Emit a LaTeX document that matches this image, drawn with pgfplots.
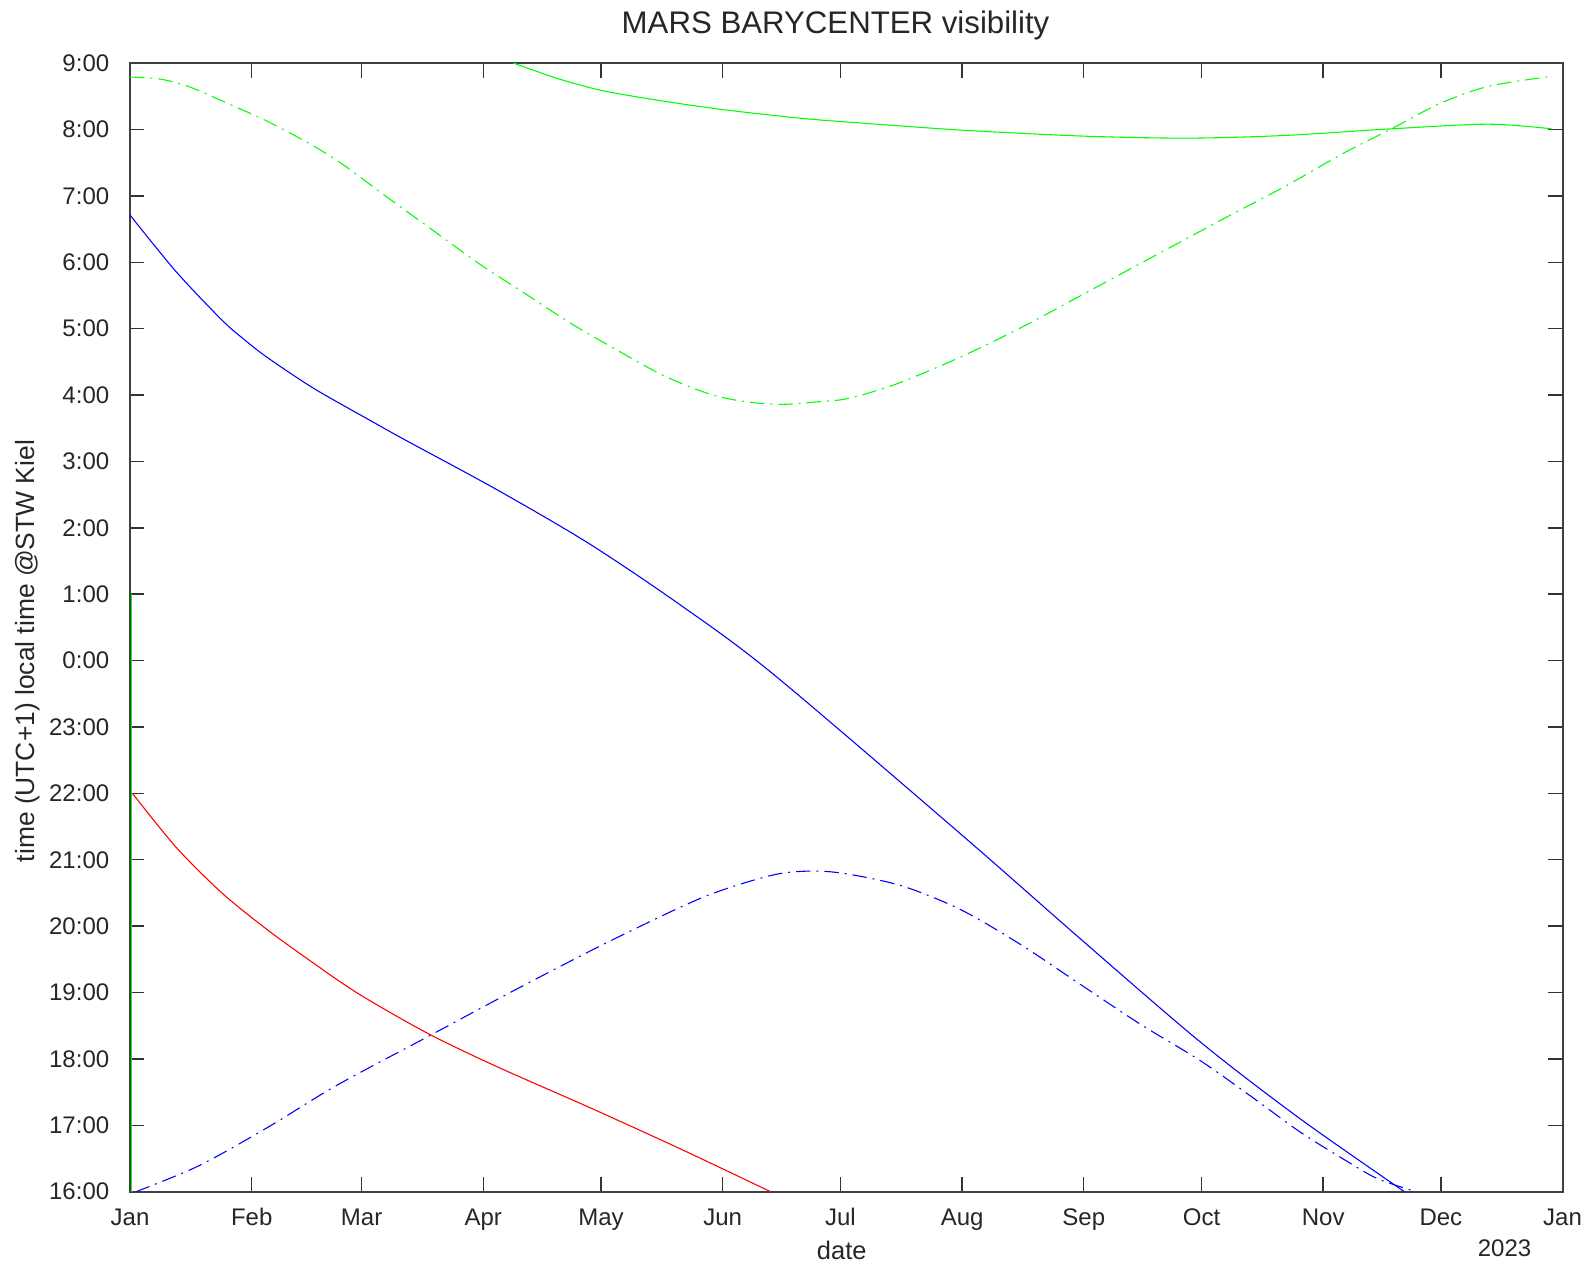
\documentclass[border=0pt]{standalone}
\usepackage{fontspec}
\setmainfont{Liberation Sans}
\usepackage{pgfplots}
\pgfplotsset{compat=1.18}
\definecolor{gpgreen}{RGB}{0,255,0}
\definecolor{gpblue}{RGB}{0,0,255}
\definecolor{gpred}{RGB}{255,0,0}
\tikzset{gpdashdot/.style={dash pattern=on 6pt off 2.5pt on 0.8pt off 2.5pt}}

\begin{document}
\begin{tikzpicture}
\begin{axis}[
    scale only axis,
    width=596.8pt, height=470.2pt,
    clip mode=individual,
    xmin=0, xmax=365,
    ymin=0, ymax=17,
    xtick={0,31,59,90,120,151,181,212,243,273,304,334,365},
    xticklabels={Jan,Feb,Mar,Apr,May,Jun,Jul,Aug,Sep,Oct,Nov,Dec,Jan},
    ytick={0,1,...,17},
    yticklabels={16:00,17:00,18:00,19:00,20:00,21:00,22:00,23:00,0:00,1:00,2:00,3:00,4:00,5:00,6:00,7:00,8:00,9:00},
    tick align=inside,
    major tick length=6pt,
    tick style={black!80, line width=0.6pt},
    axis line style={black!75, line width=0.8pt},
    ticklabel style={font=\fontsize{10}{12}\selectfont, text=black!85},
    xticklabel style={anchor=base, yshift=-14.2pt},
    yticklabel style={anchor=east, inner sep=0pt, xshift=-8.5pt},
    xlabel={date},
    xlabel style={at={(axis description cs:0.4968,-0.0523)}, anchor=center,
        font=\fontsize{10.6}{12}\selectfont, text=black!85},
    ylabel={time (UTC+1) local time @STW Kiel},
    ylabel style={at={(axis description cs:-0.0717,0.479)}, anchor=center,
        font=\fontsize{11}{13}\selectfont, text=black!85},
    every axis plot/.append style={line width=0.45pt},
]

% rise (blue), set (red), transit (green); dash-dot = twilight bounds
\addplot[gpgreen] coordinates {(0.25,0) (0.25,9.0)};

\addplot[gpgreen, smooth] coordinates {
    (97.7,17.0)(108.8,16.77)(120.0,16.59)(134.5,16.44)(151.0,16.30)(170.7,16.17)
    (183.4,16.11)(212.0,15.99)(243.0,15.90)(269.5,15.87)(294.2,15.91)(321.4,16.01)
    (346.1,16.08)(362.2,16.01)
};

\addplot[gpgreen, smooth, gpdashdot] coordinates {
    (0,16.79)(7.6,16.76)(15.2,16.64)(26.9,16.34)(35.1,16.12)(45.6,15.79)(53.8,15.49)
    (65.5,14.98)(77.2,14.48)(88.9,13.98)(100.6,13.53)(112.3,13.08)(124.0,12.68)
    (135.7,12.30)(147.4,12.02)(156.7,11.90)(166.1,11.86)(175.5,11.90)(183.1,11.95)
    (195.4,12.17)(211.5,12.57)(227.5,13.03)(244.8,13.58)(262.1,14.13)(279.4,14.68)
    (294.2,15.14)(309.1,15.64)(321.4,16.01)(333.7,16.39)(346.1,16.65)(362.2,16.80)
};

\addplot[gpblue, smooth] coordinates {
    (0,14.71)(11.7,13.86)(23.4,13.13)(29.2,12.83)(35.1,12.56)(46.8,12.10)(60.8,11.63)
    (70.2,11.32)(93.6,10.57)(117.0,9.76)(140.4,8.83)(163.8,7.80)(211.6,5.39)
    (242.7,3.78)(272.8,2.25)(298.1,1.10)(324.7,0)
};

\addplot[gpblue, smooth, gpdashdot] coordinates {
    (1.5,0)(17.5,0.39)(35.1,0.97)(52.6,1.60)(76.0,2.34)(99.4,3.08)(122.8,3.79)
    (146.2,4.44)(163.8,4.77)(174.3,4.83)(183.4,4.78)(197.0,4.60)(211.6,4.25)
    (227.0,3.72)(242.7,3.10)(257.5,2.52)(272.8,1.97)(286.0,1.42)(298.1,0.90)
    (309.2,0.49)(317.7,0.20)(327.7,0)
};

\addplot[gpred, smooth] coordinates {
    (0.6,6.0)(11.7,5.19)(23.4,4.50)(35.1,3.94)(46.8,3.44)(58.5,2.97)(76.0,2.38)
    (93.6,1.88)(117.0,1.27)(140.4,0.64)(163.2,0)
};

\node[font=\fontsize{13}{15}\selectfont, text=black!85]
    at (axis description cs:0.4925,1.0333) {MARS BARYCENTER visibility};
\node[font=\fontsize{10}{12}\selectfont, text=black!85]
    at (axis description cs:0.9595,-0.0505) {2023};
\end{axis}
\pgfresetboundingbox
\path[use as bounding box]
    ([shift={(-54.2pt,-31.9pt)}]current axis.south west) rectangle
    ([shift={(13.1pt,26.3pt)}]current axis.north east);
\end{tikzpicture}
\end{document}
